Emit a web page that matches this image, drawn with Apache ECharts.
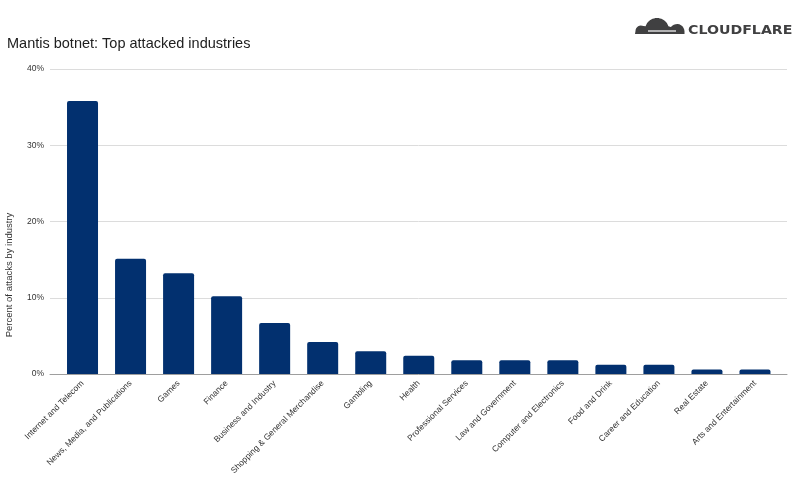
<!DOCTYPE html>
<html>
<head>
<meta charset="utf-8">
<script src="https://cdn.jsdelivr.net/npm/echarts@6/dist/echarts.min.js"></script>
<style>
html,body{margin:0;padding:0;background:#fff;}
#chart{width:800px;height:479px;}
</style>
</head>
<body>
<div id="chart"></div>
<script>
var categories = [
  "Internet and Telecom",
  "News, Media, and Publications",
  "Games",
  "Finance",
  "Business and Industry",
  "Shopping & General Merchandise",
  "Gambling",
  "Health",
  "Professional Services",
  "Law and Government",
  "Computer and Electronics",
  "Food and Drink",
  "Career and Education",
  "Real Estate",
  "Arts and Entertainment"
];
var values = [35.8, 15.1, 13.2, 10.2, 6.7, 4.2, 3.0, 2.4, 1.8, 1.8, 1.8, 1.2, 1.2, 0.6, 0.6];
var yTicks = [0, 10, 20, 30, 40];
var titleText = "Mantis botnet: Top attacked industries";
var yAxisTitle = "Percent of attacks by industry";
var logoText = "CLOUDFLARE";

// cloud logo outline built from arcs (decoration only)
function arcPts(cx, cy, r, a0, a1, n) {
  var pts = [];
  for (var i = 0; i <= n; i++) {
    var a = a0 + (a1 - a0) * i / n;
    pts.push([cx + r * Math.cos(a), cy - r * Math.sin(a)]);
  }
  return pts;
}
var cloudPts = [[635, 34]]
  .concat(arcPts(641, 31, 5.5, Math.PI, Math.PI * 0.35, 8))
  .concat(arcPts(657, 30, 12, Math.PI * 0.9, Math.PI * 0.1, 20))
  .concat(arcPts(677, 31.5, 7.5, Math.PI * 0.8, 0, 10))
  .concat([[684.5, 34]]);

var chart = echarts.init(document.getElementById('chart'), null, {renderer: 'canvas'});
var FONT = "'Liberation Sans', Arial, sans-serif";
var option = {
  backgroundColor: '#ffffff',
  animation: false,
  title: {
    text: titleText,
    left: 2,
    top: 31,
    textStyle: {fontFamily: FONT, fontSize: 14.5, fontWeight: 'normal', color: '#202020'}
  },
  grid: [
    {left: 58.5, right: 21, top: 69, bottom: 105, containLabel: false, outerBoundsMode: 'none'},
    {left: 50, right: 13, top: 69, bottom: 105, containLabel: false, outerBoundsMode: 'none'}
  ],
  xAxis: [
    {
      type: 'category', gridIndex: 0, data: categories,
      axisLine: {show: false}, axisTick: {show: false},
      axisLabel: {rotate: 45, interval: 0, margin: 8, fontFamily: FONT, fontSize: 8.5, color: '#333'}
    },
    {
      type: 'value', gridIndex: 1, min: 0, max: 1,
      axisLine: {show: true, lineStyle: {color: '#9e9e9e', width: 1}},
      axisTick: {show: false}, axisLabel: {show: false}, splitLine: {show: false}
    }
  ],
  yAxis: [
    {
      type: 'value', gridIndex: 0, min: 0, max: 40, interval: 10,
      show: false
    },
    {
      type: 'value', gridIndex: 1, min: 0, max: 40, interval: 10,
      axisLine: {show: false}, axisTick: {show: false},
      axisLabel: {margin: 6, fontFamily: FONT, fontSize: 8.5, color: '#333',
        formatter: function (v) { return v + '%'; }},
      splitLine: {lineStyle: {color: '#dcdcdc', width: 1}}
    }
  ],
  series: [{
    type: 'bar', xAxisIndex: 0, yAxisIndex: 0,
    data: values, barWidth: 31,
    itemStyle: {color: '#02306f', borderRadius: [2, 2, 0, 0]}
  }],
  graphic: [
    {
      type: 'text', x: 9, y: 275, rotation: Math.PI / 2,
      style: {text: yAxisTitle, font: "9.5px 'Liberation Sans', Arial, sans-serif", fill: '#333', textAlign: 'center', textVerticalAlign: 'middle'}
    },
    {
      type: 'polygon', z: 10,
      shape: {points: cloudPts},
      style: {fill: '#404041'}
    },
    {
      type: 'line', z: 11,
      shape: {x1: 648, y1: 31, x2: 676, y2: 31},
      style: {stroke: '#ffffff', lineWidth: 1.2}
    },
    {
      type: 'text', z: 10, x: 688, y: 30.5, scaleX: 1.18,
      style: {text: logoText, font: "bold 12px 'DejaVu Sans', Verdana, sans-serif", fill: '#404041', textAlign: 'left', textVerticalAlign: 'middle'}
    }
  ]
};
chart.setOption(option);
</script>
</body>
</html>
